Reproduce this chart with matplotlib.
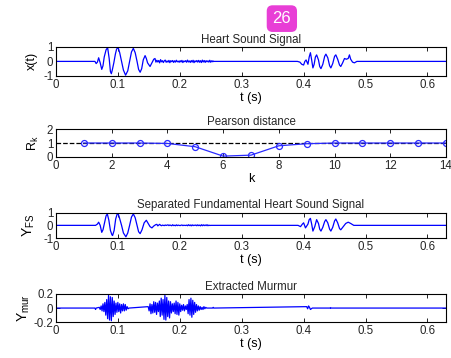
import numpy as np
import matplotlib
matplotlib.use('Agg')
import matplotlib.pyplot as plt

plt.rcParams['font.family'] = ['Liberation Sans', 'DejaVu Sans']
plt.rcParams['font.size'] = 8.3
plt.rcParams['mathtext.default'] = 'regular'

# heart sound x(t): points (t in s, value)
hs_t = [0.0, 0.063, 0.065, 0.067, 0.069, 0.0715, 0.074, 0.076, 0.078, 0.081, 0.0835,
        0.086, 0.088, 0.0895, 0.091, 0.0935, 0.096, 0.098, 0.1005, 0.103, 0.106, 0.109,
        0.1125, 0.116, 0.119, 0.122, 0.125, 0.128, 0.131, 0.1335, 0.136, 0.1385, 0.141,
        0.144, 0.146, 0.148, 0.152, 0.155, 0.158, 0.160]
hs_v = [0.0, 0.0, -0.15, -0.05, 0.25, -0.1, -0.55, -0.3, 0.3, 0.8, 0.95,
        0.2, -0.7, -0.85, -0.6, -0.1, 0.5, 0.85, 0.95, 0.6, 0.0, -0.6,
        -0.95, -0.65, 0.0, 0.65, 0.9, 0.6, 0.0, -0.55, -0.75, -0.5, 0.1,
        0.4, 0.2, -0.1, -0.35, -0.1, 0.15, 0.2]
# small noisy tail after the first sound (1.5 ms steps from 0.1615 s)
hs_tail = [-0.05, 0.08, -0.04, 0.06, -0.1, 0.12, -0.03, 0.05, -0.08, 0.04, 0.09, -0.06,
           0.03, -0.05, 0.07, -0.09, 0.05, -0.02, 0.06, -0.07, 0.04, -0.05, 0.08, -0.03,
           0.02, -0.06, 0.05, -0.04, 0.07, -0.08, 0.03, -0.02, 0.05, -0.06, 0.09, -0.04,
           0.03, -0.07, 0.06, -0.05, 0.08, -0.09, 0.04, -0.03, 0.06, -0.05, 0.07, -0.06,
           0.05, -0.08, 0.09, -0.04, 0.06, -0.07, 0.05, -0.03, 0.04, -0.05, 0.08, -0.06,
           0.04, -0.02, 0.0]
hs2_t = [0.390, 0.394, 0.397, 0.400, 0.402, 0.404, 0.406, 0.407, 0.409, 0.411, 0.413,
         0.415, 0.417, 0.419, 0.421, 0.424, 0.426, 0.428, 0.431, 0.434, 0.436, 0.439,
         0.442, 0.444, 0.447, 0.450, 0.452, 0.455, 0.458, 0.460, 0.463, 0.466, 0.469,
         0.472, 0.474, 0.476, 0.479, 0.482, 0.486, 0.63]
hs2_v = [0.0, -0.05, -0.2, -0.25, 0.0, 0.1, -0.1, -0.2, 0.3, 0.6, 0.1,
         -0.45, -0.2, 0.3, 0.45, 0.1, -0.35, -0.5, -0.2, 0.35, 0.5, 0.25,
         -0.3, -0.45, -0.15, 0.35, 0.45, 0.15, -0.25, -0.35, -0.1, 0.2, 0.15,
         0.2, 0.45, 0.15, -0.05, -0.1, 0.0, 0.0]

# Pearson distance per k
k = list(range(1, 15))
rk = [1.0, 1.0, 1.0, 0.97, 0.73, 0.05, 0.12, 0.8, 0.95, 1.0, 1.0, 1.0, 1.0, 1.0]
rk_threshold = 1.0

# separated fundamental heart sound Y_FS
fs_t = [0.0, 0.064, 0.067, 0.069, 0.0715, 0.074, 0.076, 0.079, 0.081, 0.083, 0.0855,
        0.088, 0.0905, 0.0915, 0.094, 0.0965, 0.0996, 0.102, 0.106, 0.109, 0.113, 0.116,
        0.119, 0.122, 0.125, 0.128, 0.131, 0.1335, 0.136, 0.139, 0.1425, 0.146, 0.149,
        0.152, 0.155, 0.158, 0.161, 0.163]
fs_v = [0.0, 0.0, 0.1, 0.25, 0.0, -0.55, -0.35, 0.3, 0.75, 0.9, 0.4,
        -0.4, -0.75, -0.8, -0.4, 0.5, 1.0, 0.7, 0.0, -0.6, -0.9, -0.6,
        0.0, 0.65, 0.9, 0.6, 0.0, -0.5, -0.65, -0.35, 0.2, 0.4, 0.15,
        -0.1, -0.2, -0.05, 0.05, 0.08]
fs_tail = [-0.04, 0.02, 0.08, 0.01, -0.03, 0.02, 0.0, -0.02, 0.03, -0.01, 0.02, 0.04,
           -0.02, 0.03, 0.0, -0.03, 0.05, -0.02, 0.01, -0.03, 0.04, -0.02, 0.02, 0.0,
           -0.02, 0.01, 0.03, -0.02, 0.01, 0.0, -0.01, 0.02, -0.03, 0.05, -0.02, 0.03,
           -0.04, 0.04, -0.02, 0.02, -0.01, 0.03, -0.03, 0.04, -0.02, 0.02, -0.04, 0.05,
           -0.03, 0.04, -0.02, 0.03, -0.02, 0.05, -0.03, 0.02, -0.01, 0.0]
fs2_t = [0.391, 0.395, 0.398, 0.400, 0.403, 0.405, 0.407, 0.409, 0.411, 0.413, 0.415,
         0.418, 0.421, 0.424, 0.426, 0.428, 0.431, 0.434, 0.436, 0.439, 0.442, 0.444,
         0.447, 0.450, 0.452, 0.455, 0.458, 0.460, 0.464, 0.468, 0.472, 0.476, 0.481, 0.63]
fs2_v = [0.0, -0.1, 0.1, 0.2, -0.2, -0.05, 0.1, 0.45, 0.55, 0.1, -0.45,
         -0.1, 0.45, 0.15, -0.3, -0.45, -0.15, 0.3, 0.45, 0.2, -0.3, -0.45,
         -0.15, 0.35, 0.5, 0.2, -0.25, -0.35, -0.1, 0.15, 0.25, 0.15, 0.0, 0.0]

# extracted murmur Y_mur (1.5 ms steps)
mur1_start = 0.070
mur1 = [0.01, -0.02, 0.03, -0.04, 0.06, -0.05, 0.08, -0.1, 0.12, -0.15, 0.18, -0.17,
        0.16, -0.18, 0.15, -0.12, 0.1, -0.09, 0.07, -0.06, 0.08, -0.05, 0.06, -0.07,
        0.05, -0.04, 0.06, -0.04, 0.05, -0.03, 0.02, -0.01, 0.0]
mur2_start = 0.149
mur2 = [0.02, -0.04, 0.06, -0.08, 0.05, -0.07, 0.09, -0.06, 0.08, -0.09, 0.07, -0.05,
        0.10, -0.12, 0.14, -0.10, 0.12, -0.16, 0.18, -0.17, 0.15, -0.12, 0.10, -0.14,
        0.09, -0.07, 0.06, -0.05, 0.07, -0.08, 0.10, -0.09, 0.08, -0.10, 0.06, -0.05,
        0.04, -0.03, 0.05, -0.04, 0.03, -0.02, 0.05, -0.08, 0.12, -0.10, 0.14, -0.13,
        0.11, -0.09, 0.08, -0.06, 0.05, -0.04, 0.03, -0.03, 0.02, -0.02, 0.01, -0.02,
        0.02, -0.01, 0.01, 0.0]
mur3_start = 0.405
mur3 = [0.02, -0.01, 0.03, 0.01, -0.02, -0.01, 0.0]
dt = 0.0015


def seg(start, vals):
    return start + dt * np.arange(len(vals)), np.array(vals)


blue = '#0000ff'
title_kw = dict(pad=3, fontsize=8.3)
fig = plt.figure(figsize=(4.51, 3.58), dpi=100)
ax1 = fig.add_axes([0.124, 0.788, 0.865, 0.081])
ax2 = fig.add_axes([0.124, 0.562, 0.865, 0.077])
ax3 = fig.add_axes([0.124, 0.335, 0.865, 0.071])
ax4 = fig.add_axes([0.124, 0.100, 0.865, 0.079])

tt, tv = seg(0.1615, hs_tail)
x_t = np.concatenate([hs_t, tt, [0.253], hs2_t])
x_v = np.concatenate([hs_v, tv, [0.0], hs2_v])
ax1.plot(x_t, x_v, color=blue, lw=0.9)
ax1.set_ylim(-1, 1)
ax1.set_yticks([-1, 0, 1])
ax1.set_ylabel('x(t)', fontsize=9)
ax1.set_xlabel('t (s)', fontsize=9, labelpad=1)
ax1.set_title('Heart Sound Signal', **title_kw)

ax2.plot([0, 14], [rk_threshold, rk_threshold], 'k--', lw=0.9)
ax2.plot(k, rk, '-o', color='#2a2aff', lw=0.9, ms=4.3, mfc='none', mew=0.9)
ax2.set_xlim(0, 14)
ax2.set_ylim(0, 2)
ax2.set_xticks(range(0, 15, 2))
ax2.set_yticks([0, 1, 2])
ax2.set_ylabel('R$_k$', fontsize=9)
ax2.set_xlabel('k', fontsize=9, labelpad=1)
ax2.set_title('Pearson distance', **title_kw)

ft, fv = seg(0.1645, fs_tail)
y_t = np.concatenate([fs_t, ft, [0.252], fs2_t])
y_v = np.concatenate([fs_v, fv, [0.0], fs2_v])
ax3.plot(y_t, y_v, color=blue, lw=0.9)
ax3.set_ylim(-1, 1)
ax3.set_yticks([-1, 0, 1])
ax3.set_ylabel('Y$_{FS}$', fontsize=10)
ax3.set_xlabel('t (s)', fontsize=9, labelpad=1)
ax3.set_title('Separated Fundamental Heart Sound Signal', **title_kw)

m1t, m1v = seg(mur1_start, mur1)
m2t, m2v = seg(mur2_start, mur2)
m3t, m3v = seg(mur3_start, mur3)
m_t = np.concatenate([[0.0, 0.063, 0.064, 0.065], m1t, m2t, [0.253, 0.254, 0.255], m3t, [0.443, 0.4435, 0.444, 0.63]])
m_v = np.concatenate([[0.0, 0.0, -0.02, 0.0], m1v, m2v, [0.0, 0.01, 0.0], m3v, [0.0, 0.006, 0.0, 0.0]])
ax4.plot(m_t, m_v, color=blue, lw=0.9)
ax4.set_ylim(-0.2, 0.2)
ax4.set_yticks([-0.2, 0, 0.2])
ax4.set_ylabel('Y$_{mur}$', fontsize=10)
ax4.set_xlabel('t (s)', fontsize=9, labelpad=1)
ax4.set_title('Extracted Murmur', **title_kw)

for ax in (ax1, ax3, ax4):
    ax.set_xlim(0, 0.63)
    ax.set_xticks([0, 0.1, 0.2, 0.3, 0.4, 0.5, 0.6])
    ax.set_xticklabels(['0', '0.1', '0.2', '0.3', '0.4', '0.5', '0.6'])
    ax.set_yticklabels([f'{v:g}' for v in ax.get_yticks()])

for ax in (ax1, ax2, ax3, ax4):
    ax.tick_params(direction='in', top=True, right=True, length=3, width=0.6,
                   pad=2, labelcolor='#262626', labelsize=8.3)
    ax.yaxis.labelpad = 4
    for s in ax.spines.values():
        s.set_linewidth(0.8)
    ax.title.set_color('#262626')
ax4.yaxis.labelpad = 1

fig.text(0.625, 0.948, '26', color='white', fontsize=12, ha='center', va='center',
         bbox=dict(boxstyle='round,pad=0.35', fc='#e83ed6', ec='none'))

fig.savefig('out.png', dpi=100)
